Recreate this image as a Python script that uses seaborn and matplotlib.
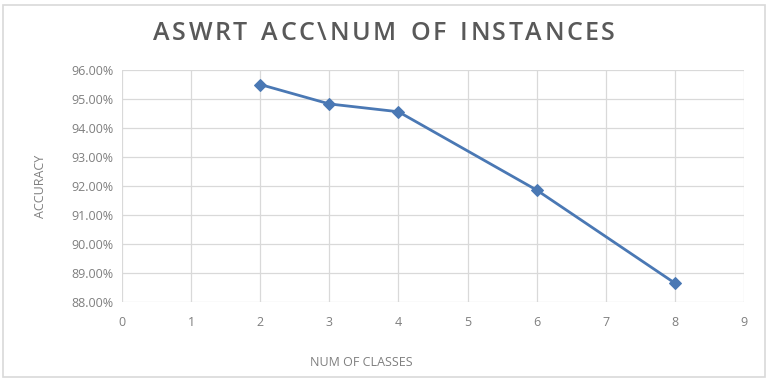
import matplotlib
matplotlib.use("Agg")
import matplotlib.pyplot as plt
import matplotlib.ticker as mticker
from matplotlib.patches import Rectangle
import pandas as pd
import seaborn as sns

num_classes = [2, 3, 4, 6, 8]
accuracy = [95.50, 94.83, 94.56, 91.86, 88.65]
x_ticks = list(range(0, 10))
y_ticks = [88, 89, 90, 91, 92, 93, 94, 95, 96]

sns.set_style("whitegrid")
plt.rcParams['font.family'] = ['Open Sans', 'DejaVu Sans']

df = pd.DataFrame({'classes': num_classes, 'acc': accuracy})

fig = plt.figure(figsize=(7.68, 3.8), dpi=100)
ax = fig.add_axes([122 / 768, 1 - 302 / 380, (744 - 122) / 768, (302 - 70) / 380])

sns.lineplot(data=df, x='classes', y='acc', ax=ax, color='#4a78b4', linewidth=2,
             marker='D', markersize=6, markeredgecolor='#4a78b4')

ax.set_xlim(0, 9)
ax.set_ylim(88, 96)
ax.set_xticks(x_ticks)
ax.set_yticks(y_ticks)
ax.yaxis.set_major_formatter(mticker.FuncFormatter(lambda v, p: f"{v:.2f}%"))
ax.tick_params(axis='both', labelsize=9, colors='#7f7f7f', length=0)
ax.tick_params(axis='x', pad=10)
ax.tick_params(axis='y', pad=6)
ax.grid(color='#d9d9d9', linewidth=0.9)
for s in ax.spines.values():
    s.set_visible(False)

ax.set_xlabel('')
ax.set_ylabel('')
fig.text(0.47, 1 - 363 / 380, 'NUM OF CLASSES', ha='center', va='center', fontsize=9, color='#7f7f7f')
fig.text(40 / 768, 1 - 186 / 380, 'ACCURACY', ha='center', va='center', rotation=90, fontsize=9, color='#7f7f7f')

# title: slightly letter-spaced, placed char by char; pick a size that spans ~472px
title = 'ASWRT ACC\\NUM OF INSTANCES'
step = 2.5
space_extra = 3


def char_w(ch, size):
    c = fig.text(0, 0, ch, fontsize=size, fontweight='semibold')
    w = c.get_window_extent(renderer=r).width
    c.remove()
    if ch == ' ':
        w = size * 0.35 + space_extra
    return w


r = fig.canvas.get_renderer()
size = 14
for cand in [14, 14.5, 15, 15.5, 16, 16.5, 17, 17.5, 18]:
    total = sum(char_w(ch, cand) for ch in title) + step * (len(title) - 1)
    size = cand
    if total >= 472:
        break
x = 384 - total / 2
for ch in title:
    if ch != ' ':
        fig.text(x / 768, 1 - 34 / 380, ch, ha='left', va='center',
                 fontsize=size, fontweight='semibold', color='#595959')
    x += char_w(ch, size) + step

fig.patches.append(Rectangle((3 / 768, 3 / 380), 762 / 768, 372 / 380, transform=fig.transFigure,
                             fill=False, edgecolor='#d9d9d9', linewidth=1.2))

fig.savefig('out.png', dpi=100)
